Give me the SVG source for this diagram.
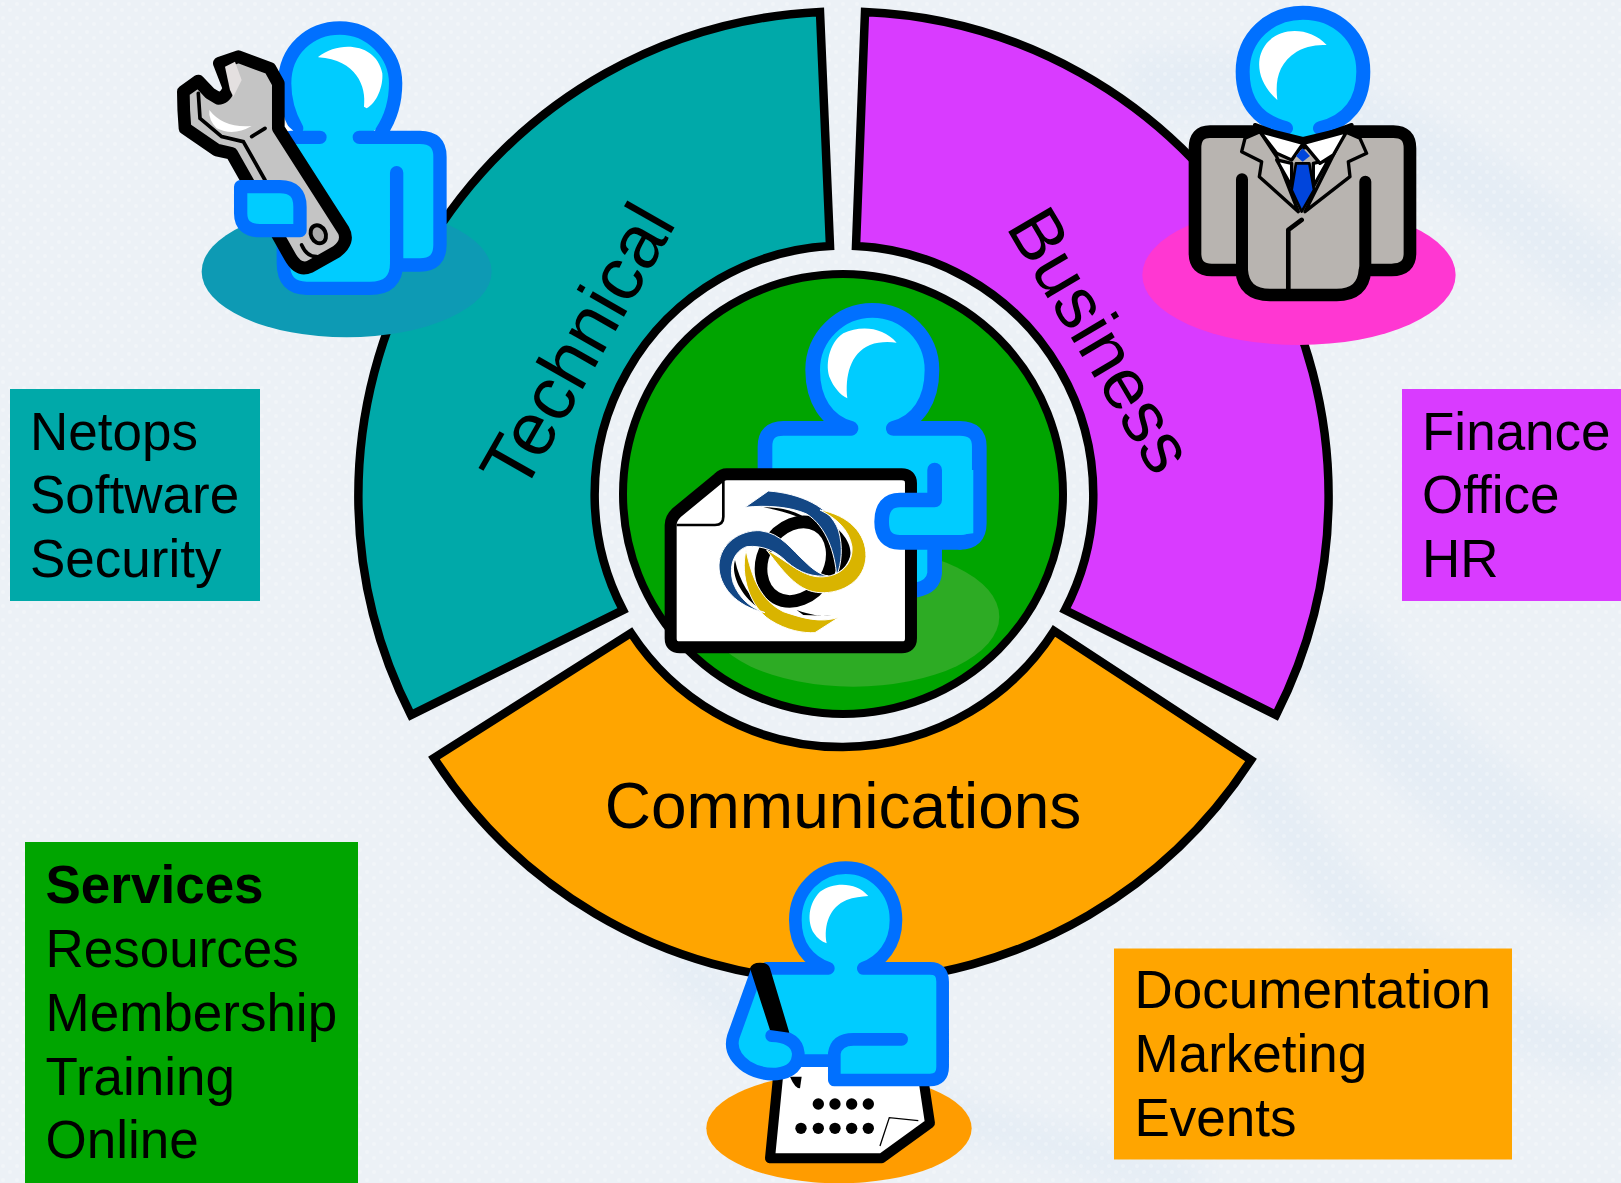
<svg xmlns="http://www.w3.org/2000/svg" width="1621" height="1183" viewBox="0 0 1621 1183">
<style>
.t{font-family:"Liberation Sans",Arial,sans-serif;fill:#000}
.l{font-size:53px}.h{font-size:64px}
.sec{stroke:#000;stroke-width:8.5;stroke-linejoin:miter}
.sk{fill:#0cf;stroke:none}
.bl{fill:none;stroke:#0070ff;stroke-linecap:round;stroke-linejoin:round}
.hi{fill:#fff}
.bk{stroke:#000;stroke-linejoin:round;stroke-linecap:round}
</style>
<defs>
<pattern id="grain" width="14" height="14" patternUnits="userSpaceOnUse">
<circle cx="3" cy="4" r="2" fill="#fff" opacity=".25"/><circle cx="10" cy="10" r="2" fill="#fff" opacity=".25"/>
</pattern>
<filter id="soft" x="-20%" y="-20%" width="140%" height="140%"><feGaussianBlur stdDeviation="14"/></filter>
</defs>
<rect id="background" width="1621" height="1183" fill="#ecf1f6"/>
<g id="swirls" fill="none" stroke="#e5edf5" filter="url(#soft)">
<path d="M1130 90C1300 60 1500 180 1621 300" stroke-width="70"/>
<path d="M1320 630C1420 760 1500 830 1621 890" stroke-width="90"/>
<path d="M1250 770C1330 900 1420 1000 1621 1060" stroke-width="60"/>
<path d="M670 950C800 1100 1050 1140 1200 1183" stroke-width="40"/>
</g>
<rect width="1621" height="1183" fill="url(#grain)"/>
<g id="sector-technical">
<path class="sec" fill="#00a9a9" d="M820 12A484 484 0 0 0 411 715L623 610A249 249 0 0 1 830 246Z"/>
<text class="t" font-size="75" transform="translate(522.6 495) rotate(-60.4)">Technical</text>
</g>
<g id="sector-business">
<path class="sec" fill="#d93bff" d="M865 12A484 484 0 0 1 1276 715L1065 610A249 249 0 0 0 856 246Z"/>
<text class="t" font-size="72" transform="translate(1005.3 226.7) rotate(59.4)">Business</text>
</g>
<g id="sector-communications">
<path class="sec" fill="#ffa500" d="M434 758A486 486 0 0 0 1251 760L1054 631A252 252 0 0 1 631 633Z"/>
<text class="t h" x="843" y="828" text-anchor="middle">Communications</text>
</g>
<g id="hub">
<circle cx="843" cy="494" r="220" fill="#00a400" stroke="#000" stroke-width="8"/>
</g>
<g id="person-services" transform="translate(640 290) scale(.3333)">
<ellipse cx="640" cy="980" rx="438" ry="210" fill="#2dab24"/>
<path class="sk" d="M518 240C518 140 600 61 697 61C795 61 876 140 876 240C876 330 835 395 760 415L960 415Q1018 415 1018 470L1018 700Q1018 757 960 757L884 757L884 850Q880 890 830 900L400 900L375 415L633 415C560 395 518 330 518 240Z"/>
<path class="bl" stroke-width="44" d="M633 415C560 395 518 330 518 240C518 140 600 61 697 61C795 61 876 140 876 240C876 330 835 395 760 415L960 415Q1018 415 1018 470L1018 700Q1018 757 960 757M633 415L430 415Q375 415 375 470L375 560M884 757L884 850Q880 890 830 900"/>
<path class="hi" d="M770 158C730 110 660 105 610 130C565 160 555 230 570 265C580 290 600 315 622 325C615 260 630 190 690 165C715 155 745 155 770 158Z"/>
<path class="bk" fill="#fff" stroke-width="36" d="M260 553L785 553Q813 553 813 580L813 1045Q813 1072 785 1072L120 1072Q92 1072 92 1045L92 705Q92 685 110 668L235 565Q247 553 260 553Z"/>
<path fill="none" stroke="#000" stroke-width="8" d="M250 570L250 680Q250 705 225 705L110 705"/>
<g id="logo">
<ellipse cx="470" cy="815" rx="100" ry="125" transform="rotate(30 470 815)" fill="none" stroke="#000" stroke-width="38"/>
<path d="M540 680C600 710 640 760 630 800C620 830 605 840 590 850C610 790 590 720 540 680ZM285 810C270 860 310 930 375 965C330 920 300 880 285 810ZM370 652C430 650 500 670 540 720C500 685 440 665 370 652ZM470 960C510 975 540 978 575 978L490 975Z" fill="#000"/>
<path stroke="#fff" stroke-width="3" fill="#134785" d="M315 652L385 603C480 610 570 650 595 720C610 770 605 820 590 858C585 790 560 710 500 672C450 650 380 645 315 652Z"/>
<path stroke="#fff" stroke-width="3" fill="#d9b400" d="M318 780C300 860 330 950 390 990C440 1022 490 1030 525 1028L597 982C540 1000 490 985 430 965C360 930 335 860 318 780Z"/>
<path stroke="#fff" stroke-width="3" fill="#d9b400" d="M540 660C625 675 680 730 678 800C675 870 610 912 540 908C480 905 440 860 380 780C430 805 480 855 530 860C590 866 640 830 636 770C628 720 590 685 540 660Z"/>
<path stroke="#fff" stroke-width="3" fill="#134785" d="M375 968C290 950 235 890 237 825C240 760 300 720 360 722C425 730 455 780 495 815C515 835 540 855 565 858C520 862 480 850 440 815C410 785 370 765 320 770C280 785 265 830 280 880C300 930 335 955 375 968Z"/>
</g>
<path class="sk" d="M780 630L884 630L884 540L1000 540L1000 730L780 757Q725 757 725 695Q725 630 780 630Z"/>
<path class="bl" stroke-width="44" d="M884 540L884 630L780 630Q725 630 725 695Q725 757 780 757L960 757"/>
</g>
<g id="person-technical" transform="translate(150 0) scale(.3333)">
<ellipse cx="590" cy="815" rx="435" ry="197" fill="#0d9ab4"/>
<path class="sk" d="M405 250C405 150 480 84 570 84C660 84 737 160 737 250C737 320 700 395 630 412L810 412Q870 412 870 470L870 735Q870 795 810 795L740 795Q735 865 660 865L470 865Q400 865 400 790L400 412L480 412C430 380 405 320 405 250Z"/>
<path class="bl" stroke-width="40" d="M440 385C420 350 404 310 404 250C404 150 480 84 570 84C660 84 737 160 737 250C737 320 715 365 695 395M510 412L420 412M628 412L810 412Q870 412 870 470L870 735Q870 795 810 795L740 795M740 518L740 790Q740 865 660 865L470 865Q400 865 400 790L400 700"/>
<path class="hi" d="M505 170C570 120 680 130 697 220C700 260 680 310 650 325L642 320C650 260 620 180 505 172Z"/>
<path fill="#fff" d="M400 365L430 392L405 392Z"/>
<g id="wrench">
<path class="bk" fill="#c4c4c4" stroke-width="38" d="M145 243L100 275Q100 330 105 385L200 450L245 460L420 770Q445 815 480 800L560 755Q600 725 580 690L385 385L385 250L360 205L265 170L208 190L237 265Q225 295 205 295L180 280Z"/>
<path fill="#e4e0e0" d="M225 200L255 185L275 240L250 290L240 270Z"/>
<path fill="#fff" d="M178 330Q220 385 305 378Q250 410 200 385Q175 360 178 330Z"/>
<path fill="none" stroke="#000" stroke-width="11" stroke-linecap="round" d="M145 280L150 355L215 410L280 425L345 540M305 410L345 385M455 735Q470 770 500 770"/>
<ellipse cx="505" cy="703" rx="22" ry="28" transform="rotate(-25 505 703)" fill="#aaa" stroke="#000" stroke-width="12"/>
</g>
<path class="sk" d="M272 560L390 560Q450 560 450 620L450 692L330 692Q272 692 272 640Z"/>
<path class="bl" stroke-width="40" d="M272 560L390 560Q450 560 450 620L450 692L330 692Q272 692 272 640Z"/>
</g>
<g id="person-business" transform="translate(1120 0) scale(.3333)">
<ellipse cx="537" cy="825" rx="470" ry="210" fill="#ff37d2"/>
<path class="sk" d="M368 215C368 110 450 38 549 38C650 38 730 110 730 215C730 300 700 370 549 430C400 370 368 300 368 215Z"/>
<path class="bl" stroke-width="42" d="M498 385C420 365 368 310 368 215C368 110 450 38 549 38C650 38 730 110 730 215C730 310 680 365 600 385"/>
<path class="hi" d="M620 135C570 80 480 80 440 130C400 180 415 250 472 300C465 240 475 190 530 155C560 138 590 135 620 135Z"/>
<path class="bk" fill="#b8b4b0" stroke-width="38" d="M405 395L270 395Q225 395 225 445L225 760Q225 810 275 810L365 810Q370 885 450 885L650 885Q730 885 735 810L815 810Q870 810 870 760L870 445Q870 395 820 395L695 395L549 430Z"/>
<path class="bk" fill="none" stroke-width="36" d="M366 538L366 810M736 545L736 810"/>
<path class="bk" fill="none" stroke-width="14" d="M505 870L505 690L545 660"/>
<path class="bk" fill="#b8b4b0" stroke-width="10" d="M375 415L365 455L425 485L418 530L535 635L470 470L420 395ZM720 415L740 460L685 485L690 530L555 635L675 395Z"/>
<path class="bk" fill="#fff" stroke-width="10" d="M470 480L515 490L515 560ZM625 480L580 490L580 560Z"/>
<path class="bk" fill="#fff" stroke-width="10" d="M420 395L550 430L515 480L470 460ZM680 395L550 430L600 490L640 465Z"/>
<path class="bk" fill="#0045dc" stroke-width="8" d="M528 490L568 490L582 570L545 635L515 570Z"/>
<path fill="#0045dc" d="M548 445L570 468L548 485L528 468Z"/>
<path class="bk" fill="none" stroke-width="12" d="M405 375L549 428L695 375"/>
</g>
<g id="person-communications" transform="translate(690 850) scale(.3333)">
<ellipse cx="447" cy="835" rx="398" ry="165" fill="#ff9c00"/>
<path class="bk" fill="#fff" stroke-width="30" d="M270 620L240 925L575 925L720 820L690 620Z"/>
<path fill="none" stroke="#000" stroke-width="4" d="M570 888L598 803L685 812"/>
<g fill="#000"><circle cx="385" cy="762" r="17"/><circle cx="435" cy="762" r="17"/><circle cx="485" cy="762" r="17"/><circle cx="535" cy="762" r="17"/><circle cx="333" cy="835" r="17"/><circle cx="385" cy="835" r="17"/><circle cx="435" cy="835" r="17"/><circle cx="485" cy="835" r="17"/><circle cx="535" cy="835" r="17"/></g>
<path d="M300 680L335 680L330 715Q315 715 300 680Z" fill="#000"/>
<path class="sk" d="M316 210C316 120 385 53 467 53C550 53 618 120 618 210C618 285 575 335 520 355L720 355Q758 355 758 395L758 650Q758 690 720 690L433 690L433 632L325 632Q320 665 260 672Q210 675 170 650Q115 610 130 560L200 355L415 355C355 335 316 285 316 210Z"/>
<path class="bl" stroke-width="38" d="M415 355C355 335 316 285 316 210C316 120 385 53 467 53C550 53 618 120 618 210C618 285 575 335 520 355L720 355Q758 355 758 395L758 650Q758 690 720 690L433 690L433 610Q440 568 490 568L635 568M415 355L230 355M200 365L130 560Q115 610 170 650Q210 675 260 672Q325 665 325 610Q320 560 245 557M325 632L433 632"/>
<path class="hi" d="M535 138C500 95 430 95 390 125C355 160 350 215 372 250C382 265 395 275 410 280C400 225 420 170 470 150C490 142 515 140 535 138Z"/>
<path d="M180 355Q185 338 210 338Q235 338 240 355L298 548L240 540Z" fill="#000"/>
</g>
<g id="box-technical">
<rect x="10" y="389" width="250" height="212" fill="#00a9a9"/>
<text class="t l"><tspan x="30" y="449.5">Netops</tspan><tspan x="30" y="513">Software</tspan><tspan x="30" y="577">Security</tspan></text>
</g>
<g id="box-business">
<rect x="1402" y="389" width="219" height="212" fill="#d93bff"/>
<text class="t l"><tspan x="1422" y="449.5">Finance</tspan><tspan x="1422" y="513">Office</tspan><tspan x="1422" y="577">HR</tspan></text>
</g>
<g id="box-services">
<rect x="25" y="842" width="333" height="341" fill="#00a500"/>
<text class="t l"><tspan x="45.500" y="903" font-weight="700">Services</tspan><tspan x="45.500" y="967">Resources</tspan><tspan x="45.500" y="1031">Membership</tspan><tspan x="45.500" y="1095">Training</tspan><tspan x="45.500" y="1158">Online</tspan></text>
</g>
<g id="box-communications">
<rect x="1114" y="948.500" width="398" height="211" fill="#ffa500"/>
<text class="t l"><tspan x="1134.500" y="1008">Documentation</tspan><tspan x="1134.500" y="1072">Marketing</tspan><tspan x="1134.500" y="1136">Events</tspan></text>
</g>
</svg>
